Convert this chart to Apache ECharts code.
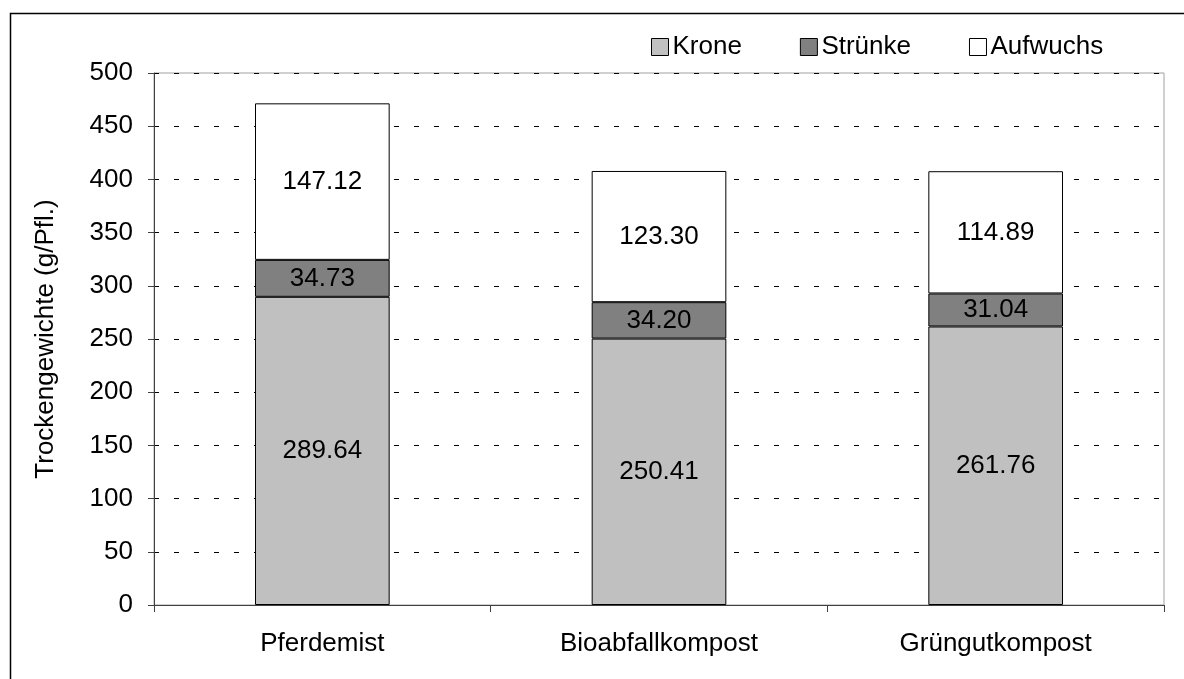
<!DOCTYPE html>
<html>
<head>
<meta charset="utf-8">
<script src="https://cdn.jsdelivr.net/npm/echarts@6/dist/echarts.min.js"></script>
<style>
  html, body { margin: 0; padding: 0; background: #fff; }
  #chart { width: 1184px; height: 679px; }
</style>
</head>
<body>
<div id="chart"></div>
<script>
const categories = ['Pferdemist', 'Bioabfallkompost', 'Grüngutkompost']
const krone = [289.64, 250.41, 261.76]
const struenke = [34.73, 34.20, 31.04]
const aufwuchs = [147.12, 123.30, 114.89]
const seriesNames = ['Krone', 'Strünke', 'Aufwuchs']
const seriesColors = ['#c0c0c0', '#808080', '#ffffff']

const font = 'Liberation Sans, Arial, sans-serif'
const fs = 26
const values = [krone, struenke, aufwuchs]

const series = values.map((data, i) => ({
  name: seriesNames[i],
  type: 'bar',
  stack: 'total',
  barWidth: '40%',
  data: data,
  itemStyle: {
    color: seriesColors[i],
    borderColor: '#000',
    borderWidth: 1,
  },
  label: {
    show: true,
    position: 'inside',
    color: '#000',
    fontSize: fs,
    fontFamily: font,
    formatter: (p) => p.value.toFixed(2),
  },
  emphasis: { disabled: true },
}))

const chart = echarts.init(document.getElementById('chart'))
chart.setOption({
  animation: false,
  backgroundColor: '#fff',
  textStyle: { fontFamily: font },
  graphic: [
    {
      type: 'rect',
      shape: { x: 10.5, y: 13.5, width: 1300, height: 800 },
      style: { fill: 'transparent', stroke: '#000', lineWidth: 1.5 },
      silent: true,
    },
  ],
  legend: {
    left: 646,
    top: 29,
    itemWidth: 17,
    itemHeight: 17,
    itemGap: 58,
    icon: 'rect',
    textStyle: { fontSize: fs, color: '#000', fontFamily: font, padding: [0, 0, 0, -1] },
    itemStyle: { borderColor: '#000', borderWidth: 1 },
    data: seriesNames,
  },
  grid: {
    left: 154,
    right: 20,
    top: 73,
    bottom: 74,
    show: true,
    borderColor: '#a0a0a0',
    borderWidth: 1,
  },
  xAxis: {
    type: 'category',
    data: categories,
    axisLine: { lineStyle: { color: '#404040', width: 1 } },
    axisTick: { show: true, length: 7, lineStyle: { color: '#404040' } },
    axisLabel: { fontSize: fs, color: '#000', margin: 26, fontFamily: font },
  },
  yAxis: {
    type: 'value',
    min: 0,
    max: 500,
    interval: 50,
    name: 'Trockengewichte (g/Pfl.)',
    nameLocation: 'middle',
    nameGap: 95,
    nameTextStyle: { fontSize: fs, color: '#000', fontFamily: font },
    axisLine: { show: true, lineStyle: { color: '#404040', width: 1 } },
    axisTick: { show: true, length: 6, lineStyle: { color: '#404040' } },
    axisLabel: { fontSize: fs, color: '#000', margin: 21, fontFamily: font },
    splitLine: {
      show: true,
      lineStyle: { color: '#000', type: [5, 15], width: 1 },
    },
  },
  series: series,
})
</script>
</body>
</html>
